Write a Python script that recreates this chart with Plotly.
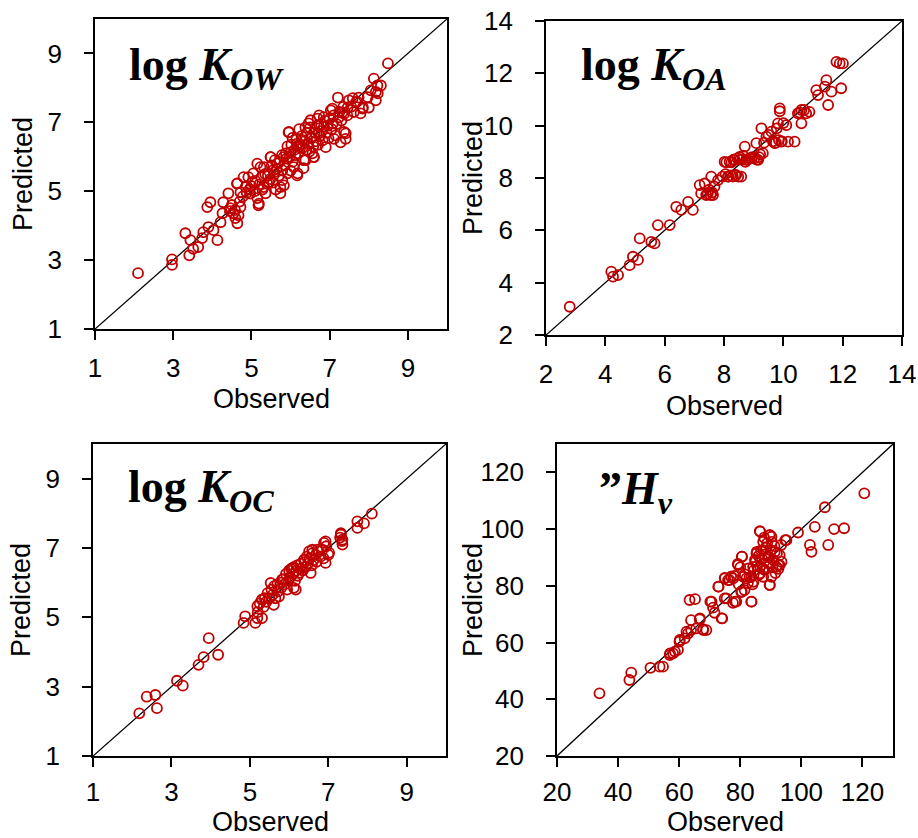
import plotly.graph_objects as go

# ---- log K_OW : observed vs predicted ----
kow_obs = [2.10, 2.97, 2.97, 3.31, 3.44, 3.41, 3.51, 3.64, 3.74, 3.77, 3.90, 3.87, 3.95, 4.03, 4.13,
           4.21, 4.26, 4.28, 4.41, 4.46, 4.54, 4.59, 4.64, 4.67, 4.72, 4.64, 4.72, 4.85, 4.92, 5.03,
           5.05, 5.15, 5.18, 5.23, 5.31, 5.36, 5.44, 5.49, 5.56, 5.67, 5.74, 5.74, 5.79, 5.82, 5.92,
           5.95, 6.00, 6.08, 6.18, 6.21, 6.31, 6.33, 6.38, 6.46, 6.51, 6.56, 6.59, 6.69, 6.72, 6.82,
           6.85, 6.90, 6.97, 7.03, 7.08, 7.15, 7.21, 7.23, 7.28, 7.33, 7.41, 7.46, 7.49, 7.59, 7.67,
           7.74, 7.79, 7.85, 8.00, 8.05, 8.13, 8.18, 8.23, 8.31, 8.49, 8.22, 8.18, 7.97, 7.84, 7.37,
           7.07, 7.37, 7.41, 7.11, 6.73, 6.51, 5.96, 6.17, 6.60, 6.34, 6.17, 5.79, 5.83, 5.49, 5.32,
           5.15, 5.40, 5.19, 4.80, 4.63, 4.97, 4.45, 4.50, 4.58, 4.70, 4.78, 4.88, 4.95, 5.00, 5.08,
           5.10, 5.20, 5.25, 5.28, 5.35, 5.42, 5.48, 5.52, 5.58, 5.60, 5.65, 5.70, 5.72, 5.78, 5.85,
           5.88, 5.90, 5.98, 6.02, 6.05, 6.10, 6.12, 6.15, 6.20, 6.25, 6.28, 6.30, 6.35, 6.40, 6.42,
           6.45, 6.50, 6.55, 6.58, 6.62, 6.65, 6.68, 6.75, 6.78, 6.80, 6.88, 6.92, 6.95, 7.00, 7.05,
           7.10, 7.18, 7.25, 7.30, 7.35, 7.45, 7.55, 7.62, 7.70, 6.05, 5.92, 6.22, 6.48, 6.00, 5.55,
           5.62, 6.38, 6.70, 6.85]
kow_pred = [2.62, 3.02, 2.86, 3.78, 3.58, 3.14, 3.33, 3.38, 3.64, 3.81, 3.96, 4.54, 4.68, 3.87, 3.58,
            4.10, 4.36, 4.68, 4.94, 4.51, 4.36, 4.22, 4.07, 4.30, 4.54, 5.23, 4.97, 5.12, 5.41, 5.26,
            5.52, 4.80, 4.59, 5.70, 5.12, 4.94, 5.26, 5.99, 5.61, 5.81, 4.94, 5.12, 5.32, 5.99, 5.52,
            6.71, 6.13, 5.70, 5.52, 6.28, 6.48, 5.67, 5.90, 6.97, 6.54, 6.10, 5.99, 7.11, 6.68, 6.48,
            6.86, 6.28, 6.54, 7.35, 6.97, 6.62, 7.72, 7.14, 6.42, 7.29, 6.68, 7.43, 7.64, 7.70, 7.58,
            7.72, 7.26, 7.43, 7.43, 7.93, 8.27, 7.64, 7.84, 8.07, 8.71, 8.07, 7.88, 7.73, 7.40, 7.25,
            7.40, 6.72, 6.52, 6.52, 7.20, 7.06, 6.72, 6.38, 5.99, 5.90, 5.46, 5.61, 5.17, 5.99, 5.70,
            5.80, 5.22, 4.64, 5.41, 5.22, 4.93, 4.42, 4.60, 4.45, 4.70, 4.85, 4.95, 5.05, 5.15, 5.00,
            5.30, 5.20, 5.40, 5.05, 5.50, 5.45, 5.35, 5.75, 5.55, 5.90, 5.65, 5.45, 5.85, 6.05, 5.75,
            6.10, 5.95, 6.00, 6.35, 5.85, 6.20, 6.05, 6.50, 6.10, 6.35, 6.60, 6.25, 6.45, 6.20, 6.70,
            6.40, 6.85, 6.55, 6.30, 6.70, 6.45, 6.90, 6.60, 6.95, 6.75, 7.05, 6.70, 6.90, 7.10, 6.80,
            7.20, 6.95, 7.30, 7.05, 7.45, 7.20, 7.45, 7.30, 7.60, 6.55, 6.30, 6.80, 6.15, 5.60, 5.25,
            5.05, 6.85, 6.35, 7.15]

# ---- log K_OA ----
koa_obs = [2.80, 4.20, 4.26, 4.43, 4.82, 4.93, 5.10, 5.16, 5.55, 5.66, 5.77, 6.17, 6.39, 6.56, 6.79,
           6.95, 7.18, 7.35, 7.23, 7.40, 7.57, 7.63, 7.68, 7.80, 8.02, 8.13, 8.19, 8.30, 8.36, 8.41,
           8.53, 8.58, 8.70, 8.75, 8.92, 9.09, 9.15, 9.26, 9.31, 9.43, 9.60, 9.71, 9.82, 9.88, 9.88,
           9.93, 10.10, 10.16, 10.38, 10.49, 10.61, 10.61, 10.77, 10.88, 11.11, 11.17, 11.40, 11.45,
           11.51, 11.62, 11.79, 11.90, 12.01, 11.95, 7.45, 7.50, 7.55, 7.60, 7.95, 8.05, 8.08, 8.15,
           8.22, 8.25, 8.32, 8.38, 8.45, 8.48, 8.55, 8.62, 8.65, 8.72, 8.80, 8.85, 8.95, 9.02, 9.10,
           9.18, 9.22, 9.35, 9.50, 9.65, 9.75, 9.85, 9.95, 9.78, 10.00, 10.55, 10.70]
koa_pred = [3.08, 4.42, 4.23, 4.29, 4.67, 4.99, 4.87, 5.69, 5.56, 5.50, 6.20, 6.20, 6.90, 6.78, 7.09,
            6.78, 7.73, 7.79, 7.41, 7.35, 8.05, 7.35, 7.67, 7.92, 8.62, 8.05, 8.62, 8.05, 8.69, 8.11,
            8.81, 8.05, 9.20, 8.69, 8.75, 9.33, 8.69, 9.90, 8.95, 9.58, 9.77, 9.33, 10.09, 10.66, 10.55,
            9.39, 10.02, 9.39, 9.39, 10.47, 10.09, 10.60, 10.47, 10.53, 11.36, 11.17, 11.49, 11.74,
            10.79, 11.30, 12.44, 12.38, 12.38, 11.43, 7.40, 7.55, 7.35, 7.45, 8.05, 8.15, 8.60, 8.05,
            8.10, 8.60, 8.70, 8.12, 8.75, 8.05, 8.70, 8.72, 8.85, 8.62, 8.70, 8.75, 8.80, 8.75, 8.70,
            8.80, 8.90, 9.35, 9.65, 9.40, 9.35, 9.45, 9.40, 9.90, 10.10, 10.50, 10.60]

# ---- log K_OC ----
koc_obs = [2.18, 2.37, 2.59, 2.63, 3.14, 3.29, 3.69, 3.82, 3.95, 4.19, 4.84, 4.88, 5.14, 5.19, 5.31,
           5.53, 5.61, 6.12, 6.59, 6.55, 6.93, 7.32, 7.36, 7.36, 7.74, 7.74, 7.91, 8.11, 5.31, 5.19,
           5.31, 5.74, 5.82, 5.95, 6.08, 6.17, 6.25, 6.38, 6.51, 6.72, 6.89, 6.93, 7.02, 7.32, 5.20,
           5.25, 5.35, 5.38, 5.42, 5.45, 5.50, 5.55, 5.58, 5.62, 5.65, 5.70, 5.72, 5.78, 5.80, 5.85,
           5.88, 5.92, 5.98, 6.00, 6.02, 6.05, 6.10, 6.12, 6.15, 6.18, 6.20, 6.22, 6.28, 6.30, 6.35,
           6.40, 6.42, 6.45, 6.48, 6.52, 6.58, 6.60, 6.62, 6.68, 6.70, 6.75, 6.80, 6.85, 6.88, 6.95,
           7.00, 7.30, 7.35]
koc_pred = [2.23, 2.71, 2.76, 2.38, 3.17, 3.03, 3.63, 3.85, 4.40, 3.92, 4.84, 5.03, 4.84, 4.98, 4.98,
            5.99, 5.36, 5.85, 6.95, 6.28, 7.19, 7.43, 7.10, 7.24, 7.77, 7.58, 7.71, 7.99, 5.51, 5.32,
            5.51, 5.60, 6.09, 5.80, 6.42, 5.80, 6.28, 6.66, 6.90, 6.95, 7.15, 6.57, 6.86, 7.39, 5.15,
            5.40, 5.30, 5.55, 5.45, 5.70, 5.55, 5.80, 5.65, 5.90, 5.55, 5.95, 5.75, 6.00, 5.85, 6.10,
            5.95, 6.25, 6.05, 6.35, 6.15, 6.40, 6.25, 6.45, 6.05, 6.35, 6.50, 6.20, 6.40, 6.55, 6.35,
            6.60, 6.45, 6.75, 6.55, 6.70, 6.50, 6.85, 6.65, 6.80, 6.60, 6.90, 6.75, 6.95, 6.70, 7.05,
            6.80, 7.30, 7.20]

# ---- ΔH_v ----
hv_obs = [33.9, 43.7, 44.3, 50.6, 53.6, 54.7, 56.9, 58.0, 59.6, 60.1, 61.8, 62.9, 63.9, 63.4, 65.2,
          63.9, 65.6, 66.7, 67.8, 68.9, 70.2, 71.1, 71.6, 72.9, 74.1, 74.9, 74.9, 76.5, 77.0, 77.6,
          78.7, 79.2, 80.3, 80.6, 81.4, 82.0, 83.6, 83.6, 84.2, 85.3, 86.4, 86.4, 87.5, 88.0, 89.1,
          89.6, 90.2, 89.6, 90.2, 91.3, 91.8, 92.9, 92.9, 93.4, 95.1, 98.9, 102.8, 103.3, 104.4,
          107.7, 108.8, 110.7, 114.0, 120.6, 86.5, 89.7, 87.5, 90.3, 94.7, 85.4, 84.8, 80.5, 79.3,
          82.6, 86.5, 89.7, 92.5, 87.5, 84.3, 81.0, 77.7, 75.0, 72.8, 80.5, 89.7, 75.5, 78.3, 83.7,
          73.9, 70.6, 66.8, 67.9, 62.4, 60.2, 58.6, 57.0, 85.0, 86.0, 86.8, 87.2, 88.0, 88.5, 89.0,
          89.5, 90.0, 90.5, 91.0, 91.5, 92.0, 87.5, 86.2, 84.5, 83.0, 82.5, 84.0, 88.8, 87.8, 91.2,
          93.5, 92.5, 85.5, 79.5, 78.0, 76.0, 80.0, 81.5]
hv_pred = [42.1, 46.8, 49.4, 51.1, 51.5, 51.5, 55.6, 56.2, 57.4, 60.3, 61.5, 63.2, 64.4, 75.0, 75.3,
           67.9, 65.0, 68.2, 64.7, 64.4, 74.4, 72.3, 70.5, 79.7, 68.5, 75.6, 82.8, 82.0, 83.2, 74.0,
           74.4, 87.7, 77.9, 90.3, 78.5, 82.6, 74.4, 83.2, 86.7, 91.4, 99.3, 84.4, 92.6, 85.6, 90.3,
           97.9, 97.3, 80.3, 83.2, 92.0, 86.7, 87.3, 90.8, 94.4, 96.1, 98.8, 94.4, 92.0, 100.8,
           107.7, 94.4, 100.0, 100.3, 112.6, 99.1, 97.9, 95.5, 95.5, 96.1, 92.0, 89.1, 90.3, 87.3,
           86.1, 86.7, 87.9, 87.3, 83.2, 81.4, 83.2, 82.6, 82.6, 79.7, 77.9, 80.3, 75.6, 74.4, 74.4,
           68.5, 74.4, 68.5, 64.4, 63.8, 60.9, 56.8, 56.2, 88.5, 90.5, 92.5, 89.5, 91.0, 93.5, 88.0,
           90.0, 92.5, 86.5, 89.0, 84.5, 91.5, 86.0, 84.0, 85.5, 83.0, 81.0, 80.5, 95.0, 97.0, 94.0,
           88.5, 86.0, 87.0, 80.5, 83.5, 82.0, 86.5, 84.0]

kow_ticks = [1, 3, 5, 7, 9]
koa_ticks = [2, 4, 6, 8, 10, 12, 14]
koc_ticks = [1, 3, 5, 7, 9]
hv_ticks = [20, 40, 60, 80, 100, 120]

W, H = 918, 838
RED = "#C00000"
SANS = "Liberation Sans, Arial, sans-serif"
SERIF = "Liberation Serif, Times New Roman, serif"

panels = [
    dict(obs=kow_obs, pred=kow_pred, ticks=kow_ticks, rng=[1, 10],
         box=(95, 447, 19, 329),
         label="<b>log <i>K</i><sub><i>OW</i></sub></b>", lab_xy=(127, 68),
         obs_xy=(271, 399), pred_xy=(23, 174), standoff=6),
    dict(obs=koa_obs, pred=koa_pred, ticks=koa_ticks, rng=[2, 14],
         box=(546, 902, 21, 335),
         label="<b>log <i>K</i><sub><i>OA</i></sub></b>", lab_xy=(579, 68),
         obs_xy=(724, 406), pred_xy=(473, 178), standoff=6),
    dict(obs=koc_obs, pred=koc_pred, ticks=koc_ticks, rng=[1, 10],
         box=(93, 446, 444, 756),
         label="<b>log <i>K</i><sub><i>OC</i></sub></b>", lab_xy=(126, 490),
         obs_xy=(270, 822), pred_xy=(21, 600), standoff=3),
    dict(obs=hv_obs, pred=hv_pred, ticks=hv_ticks, rng=[20, 130],
         box=(557, 893, 444, 756),
         label="<b>\u201d<i>H</i><sub><i>v</i></sub></b>", lab_xy=(597, 492),
         obs_xy=(725, 822), pred_xy=(473, 600), standoff=3),
]

fig = go.Figure()
layout = dict(width=W, height=H, margin=dict(l=0, r=0, t=0, b=0, autoexpand=False),
              paper_bgcolor="white", plot_bgcolor="white", showlegend=False,
              annotations=[])

for i, p in enumerate(panels, start=1):
    sfx = "" if i == 1 else str(i)
    xa, ya = "x" + sfx, "y" + sfx
    x0, x1, y0, y1 = p["box"]
    lo, hi = p["rng"]

    # 1:1 reference line
    fig.add_trace(go.Scatter(x=[lo, hi], y=[lo, hi], mode="lines",
                             line=dict(color="black", width=1.3),
                             xaxis=xa, yaxis=ya, hoverinfo="skip"))
    fig.add_trace(go.Scatter(x=p["obs"], y=p["pred"], mode="markers",
                             marker=dict(symbol="circle-open", size=10, color=RED,
                                         line=dict(color=RED, width=1.8)),
                             xaxis=xa, yaxis=ya))

    common = dict(range=[lo, hi], tickvals=p["ticks"], ticks="outside", ticklen=9,
                  tickwidth=1.6, tickcolor="black", showline=True, linecolor="black",
                  linewidth=1.8, mirror=True, showgrid=False, zeroline=False,
                  automargin=False,
                  tickfont=dict(family=SANS, size=26, color="black"))
    layout["xaxis" + sfx] = dict(common, domain=[x0 / W, x1 / W], anchor=ya,
                                 ticklabelstandoff=p["standoff"])
    layout["yaxis" + sfx] = dict(common, domain=[1 - y1 / H, 1 - y0 / H], anchor=xa,
                                 ticklabelstandoff=17)

    layout["annotations"] += [
        dict(text=p["label"], xref="paper", yref="paper",
             x=p["lab_xy"][0] / W, y=1 - p["lab_xy"][1] / H,
             xanchor="left", yanchor="middle", showarrow=False,
             font=dict(family=SERIF, size=46, color="black")),
        dict(text="Observed", xref="paper", yref="paper",
             x=p["obs_xy"][0] / W, y=1 - p["obs_xy"][1] / H,
             xanchor="center", yanchor="middle", showarrow=False,
             font=dict(family=SANS, size=27, color="black")),
        dict(text="Predicted", xref="paper", yref="paper", textangle=-90,
             x=p["pred_xy"][0] / W, y=1 - p["pred_xy"][1] / H,
             xanchor="center", yanchor="middle", showarrow=False,
             font=dict(family=SANS, size=27, color="black")),
    ]

fig.update_layout(**layout)
# the page body carries a default margin; drop it so the figure sits flush in the window
fig.write_html("out.html",
               post_script="document.body.style.margin='0';document.body.style.overflow='hidden';")
